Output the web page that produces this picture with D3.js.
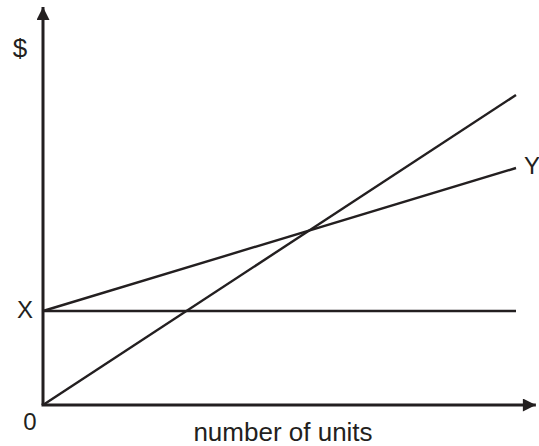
<!DOCTYPE html>
<html>
<head>
<meta charset="utf-8">
<script src="https://cdn.jsdelivr.net/npm/d3@7"></script>
<style>
  body { margin: 0; background: #fff; }
  svg { display: block; }
  text { font-family: "Liberation Sans", Arial, sans-serif; fill: #231f20; }
</style>
</head>
<body>
<div id="chart"></div>
<script>
// break-even chart data (arbitrary units)
var units = [0, 10];
var fixedCost = [23.5, 23.5];
var totalCost = [23.5, 59.25];
var revenue = [0, 77.5];
var axisMax = { x: 10.42, y: 99.5 };

var width = 539, height = 446;
var ink = '#231f20';

var x = d3.scaleLinear().domain([0, 10]).range([43, 516]);
var y = d3.scaleLinear().domain([0, 100]).range([405, 5]);

var svg = d3.select('#chart').append('svg')
    .attr('width', width)
    .attr('height', height);

// arrow heads
var defs = svg.append('defs');
defs.append('marker')
    .attr('id', 'arrow')
    .attr('viewBox', '0 0 10 10')
    .attr('refX', 10)
    .attr('refY', 5)
    .attr('markerUnits', 'userSpaceOnUse')
    .attr('markerWidth', 20)
    .attr('markerHeight', 13)
    .attr('orient', 'auto')
    .append('path')
    .attr('d', 'M0,0 L10,5 L0,10 Z')
    .attr('fill', ink);

// axes
svg.append('line')
    .attr('x1', x(0)).attr('y1', y(0))
    .attr('x2', x(0)).attr('y2', y(axisMax.y))
    .attr('stroke', ink).attr('stroke-width', 3)
    .attr('marker-end', 'url(#arrow)');

svg.append('line')
    .attr('x1', x(0) - 1.5).attr('y1', y(0))
    .attr('x2', x(axisMax.x)).attr('y2', y(0))
    .attr('stroke', ink).attr('stroke-width', 3)
    .attr('marker-end', 'url(#arrow)');

// the three lines
var series = [fixedCost, totalCost, revenue];
var line = d3.line()
    .x(function (d, i) { return x(units[i]); })
    .y(function (d) { return y(d); });

svg.selectAll('path.series')
    .data(series)
    .enter()
    .append('path')
    .attr('class', 'series')
    .attr('d', line)
    .attr('fill', 'none')
    .attr('stroke', ink)
    .attr('stroke-width', 2.4);

// labels
svg.append('text').attr('x', 20).attr('y', 57)
    .attr('text-anchor', 'middle').attr('font-size', 26).text('$');
svg.append('text').attr('x', 25).attr('y', y(fixedCost[0]) + 7)
    .attr('text-anchor', 'middle').attr('font-size', 24).text('X');
svg.append('text').attr('x', 30).attr('y', 430)
    .attr('text-anchor', 'middle').attr('font-size', 24).text('0');
svg.append('text').attr('x', x(10) + 8).attr('y', y(totalCost[1]) + 6)
    .attr('font-size', 24).text('Y');
svg.append('text').attr('x', 283).attr('y', 441)
    .attr('text-anchor', 'middle').attr('font-size', 26).text('number of units');
</script>
</body>
</html>
